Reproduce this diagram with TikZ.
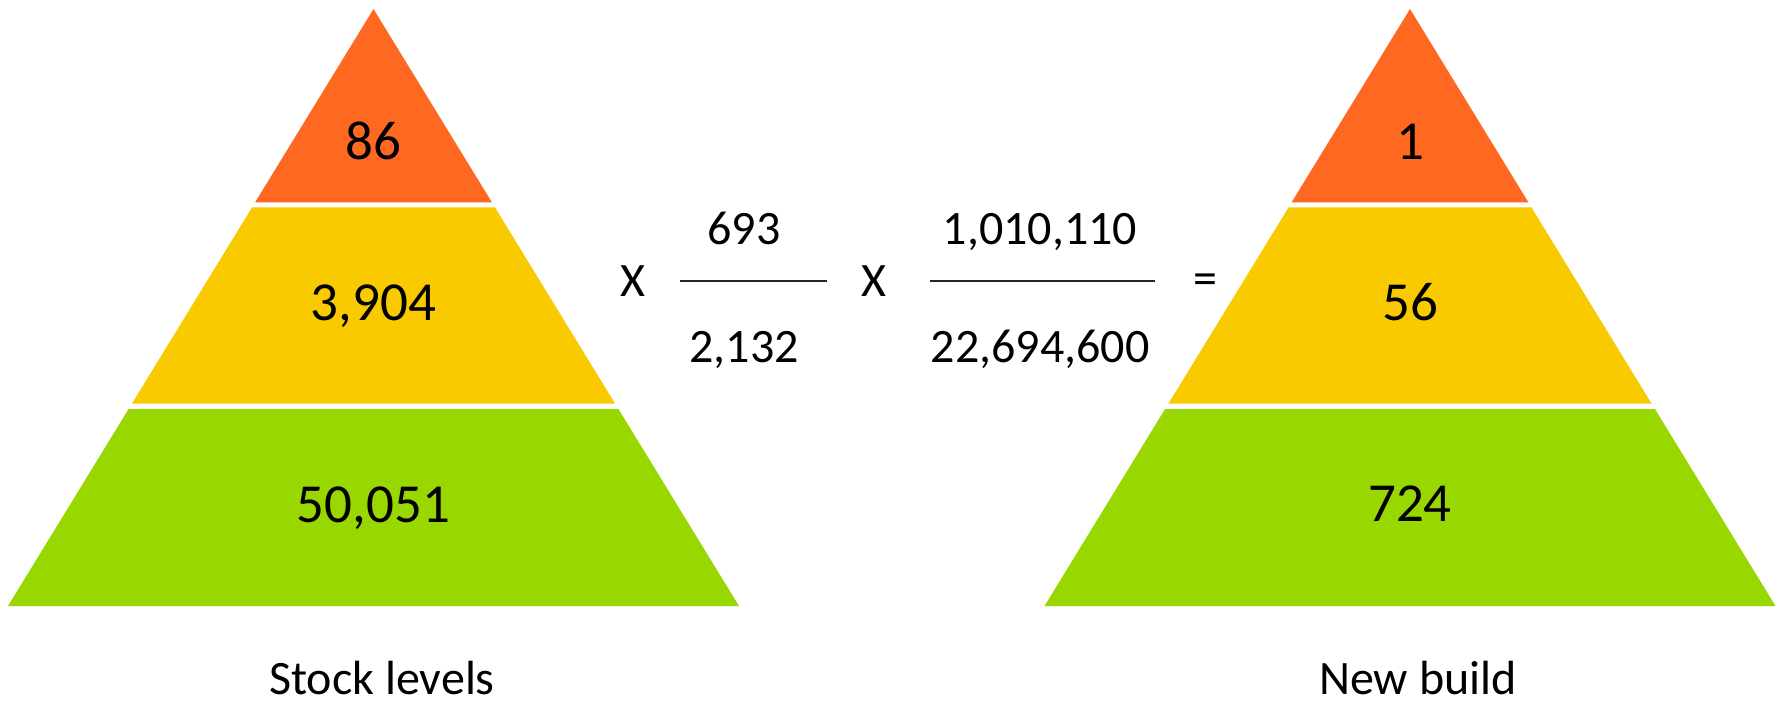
\documentclass[tikz,border=0pt]{standalone}
\usepackage{fontspec}
\setmainfont{Carlito}
\definecolor{pyrorange}{RGB}{254,104,32}
\definecolor{pyryellow}{RGB}{250,202,0}
\definecolor{pyrgreen}{RGB}{152,215,0}
\begin{document}
\begin{tikzpicture}[x=1pt,y=-1pt,
  big/.style={inner sep=0pt,anchor=base,font=\fontsize{55}{62}\selectfont},
  mid/.style={inner sep=0pt,anchor=base,font=\fontsize{48}{56}\selectfont},
  fracline/.style={line width=1.6pt,black!85}]
\useasboundingbox[fill=white] (0,0) rectangle (1783,703);
% left pyramid
\fill[pyrorange] (373.5,9) -- (255,202.5) -- (492,202.5) -- cycle;
\fill[pyryellow] (252,207.5) -- (495,207.5) -- (615,403.5) -- (132,403.5) -- cycle;
\fill[pyrgreen] (128.6,409) -- (618.4,409) -- (739,606) -- (8,606) -- cycle;
% right pyramid
\fill[pyrorange] (1410,9) -- (1291.5,202.5) -- (1528.5,202.5) -- cycle;
\fill[pyryellow] (1288.5,207.5) -- (1531.5,207.5) -- (1651.5,403.5) -- (1168.5,403.5) -- cycle;
\fill[pyrgreen] (1165.1,409) -- (1654.9,409) -- (1775.5,606) -- (1044.5,606) -- cycle;
% pyramid labels
\node[big] (l1) at (373.5,160) {86};
\node[big] (l2) at (373.5,320.5) {3,904};
\node[big] (l3) at (373.5,522) {50,051};
\node[big] (r1) at (1410,159.5) {1};
\node[big] (r2) at (1410,320.5) {56};
\node[big] (r3) at (1410,521.5) {724};
\node[mid] (lcap) at (382,694) {Stock levels};
\node[mid] (rcap) at (1418,694) {New build};
% equation
\node[mid] (x1) at (633,296.5) {X};
\node[mid] (n1) at (744,245) {693};
\node[mid] (d1) at (744,362) {2,132};
\draw[fracline] (680,281) -- (827,281);
\node[mid] (x2) at (873.5,296.5) {X};
\node[mid] (n2) at (1040,245) {1,010,110};
\node[mid] (d2) at (1040,362) {22,694,600};
\draw[fracline] (930,281) -- (1155,281);
\node[inner sep=0pt,font=\fontsize{48}{56}\selectfont] (eq) at (1205,284.5) {=};
\end{tikzpicture}
\end{document}
